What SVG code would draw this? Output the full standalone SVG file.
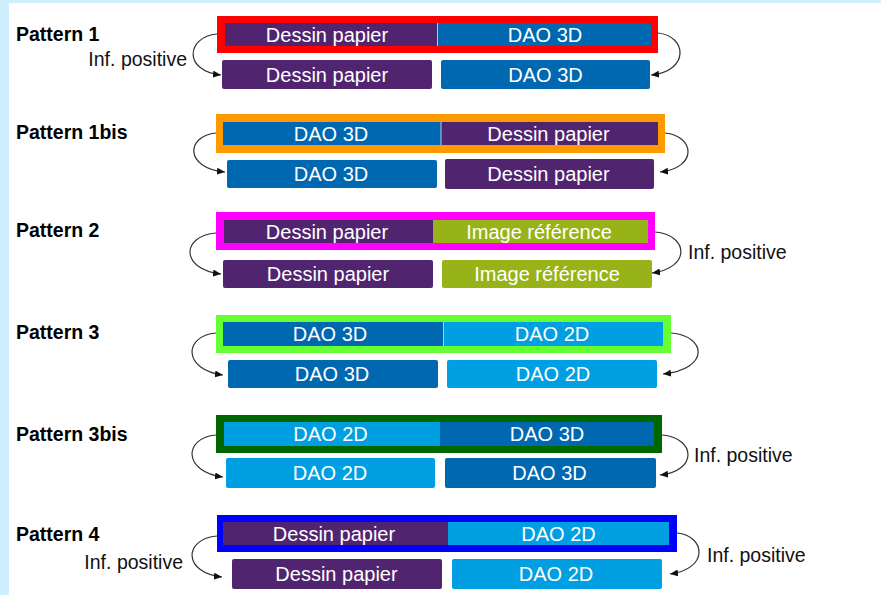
<svg xmlns="http://www.w3.org/2000/svg" width="881" height="595" viewBox="0 0 881 595">
<style>
.lbl{font-family:"Liberation Sans",Arial,sans-serif;font-size:19.5px;font-weight:bold;fill:#000}
.inf{font-family:"Liberation Sans",Arial,sans-serif;font-size:19.5px;fill:#111}
.bt{font-family:"Liberation Sans",Arial,sans-serif;font-size:20px;fill:#fff;text-anchor:middle}
.pu{fill:#51246f}.db{fill:#0067b1}.lb{fill:#009fe1}.gr{fill:#98b317}
.div{stroke:#b8c8e8;stroke-width:1}
.con{fill:none;stroke:#333;stroke-width:1.2;marker-end:url(#ah)}
</style>
<defs>
<marker id="ah" markerUnits="userSpaceOnUse" markerWidth="9" markerHeight="8" refX="8" refY="3.5" orient="auto">
<path d="M0,0 L8,3.5 L0,7 z" fill="#111"/>
</marker>
</defs>
<rect x="0" y="0" width="881" height="595" fill="#cfeefe"/>
<rect x="9" y="3" width="872" height="592" fill="#fff"/>

<g id="pattern1">
<text class="lbl" x="16" y="41">Pattern 1</text>
<text class="inf" x="187" y="66" text-anchor="end">Inf. positive</text>
<rect x="217" y="16" width="441" height="37" fill="#ff0000"/>
<rect class="pu" x="225" y="23" width="212" height="23"/>
<rect class="db" x="437" y="23" width="214" height="23"/>
<line class="div" x1="437.5" y1="23" x2="437.5" y2="46"/>
<text class="bt" x="327" y="41.5">Dessin papier</text>
<text class="bt" x="545" y="41.5">DAO 3D</text>
<rect class="pu" x="222" y="60" width="210" height="29" rx="2"/>
<rect class="db" x="441" y="60" width="209" height="29" rx="2"/>
<text class="bt" x="327" y="81.5">Dessin papier</text>
<text class="bt" x="545.5" y="81.5">DAO 3D</text>
</g>

<g id="pattern1bis">
<text class="lbl" x="16" y="139">Pattern 1bis</text>
<rect x="216" y="114" width="449" height="39" fill="#ff9900"/>
<rect class="db" x="223" y="122" width="218" height="23"/>
<rect class="pu" x="441" y="122" width="217" height="23"/>
<line class="div" x1="441" y1="122" x2="441" y2="145"/>
<text class="bt" x="331" y="140.5">DAO 3D</text>
<text class="bt" x="548.5" y="140.5">Dessin papier</text>
<rect class="db" x="227" y="160" width="210" height="28" rx="2"/>
<rect class="pu" x="445" y="159" width="209" height="30" rx="2"/>
<text class="bt" x="331" y="181">DAO 3D</text>
<text class="bt" x="548.5" y="181">Dessin papier</text>
</g>

<g id="pattern2">
<text class="lbl" x="16" y="237">Pattern 2</text>
<text class="inf" x="688" y="259">Inf. positive</text>
<rect x="216" y="212" width="439" height="38" fill="#ff00ff"/>
<rect class="pu" x="224" y="220" width="209" height="23"/>
<rect class="gr" x="433" y="220" width="215" height="23"/>
<text class="bt" x="327" y="238.5">Dessin papier</text>
<text class="bt" x="539" y="238.5">Image référence</text>
<rect class="pu" x="223" y="260" width="210" height="28" rx="2"/>
<rect class="gr" x="442" y="260" width="210" height="28" rx="2"/>
<text class="bt" x="328" y="281">Dessin papier</text>
<text class="bt" x="547" y="281">Image référence</text>
</g>

<g id="pattern3">
<text class="lbl" x="16" y="339">Pattern 3</text>
<rect x="216" y="315" width="455" height="38" fill="#66ff33"/>
<rect class="db" x="223" y="322" width="220" height="24"/>
<rect class="lb" x="443" y="322" width="220" height="24"/>
<line class="div" x1="443.5" y1="322" x2="443.5" y2="346"/>
<text class="bt" x="330" y="341">DAO 3D</text>
<text class="bt" x="552" y="341">DAO 2D</text>
<rect class="db" x="228" y="360" width="210" height="28" rx="2"/>
<rect class="lb" x="447" y="360" width="210" height="28" rx="2"/>
<text class="bt" x="332" y="381">DAO 3D</text>
<text class="bt" x="553" y="381">DAO 2D</text>
</g>

<g id="pattern3bis">
<text class="lbl" x="16" y="441">Pattern 3bis</text>
<text class="inf" x="694" y="462">Inf. positive</text>
<rect x="216" y="415" width="446" height="38" fill="#006600"/>
<rect class="lb" x="224" y="422" width="216" height="24"/>
<rect class="db" x="440" y="422" width="214" height="24"/>
<text class="bt" x="330.5" y="441">DAO 2D</text>
<text class="bt" x="547" y="441">DAO 3D</text>
<rect class="lb" x="226" y="458" width="209" height="30" rx="2"/>
<rect class="db" x="445" y="458" width="211" height="30" rx="2"/>
<text class="bt" x="330" y="480">DAO 2D</text>
<text class="bt" x="549.5" y="480">DAO 3D</text>
</g>

<g id="pattern4">
<text class="lbl" x="16" y="541">Pattern 4</text>
<text class="inf" x="183" y="569" text-anchor="end">Inf. positive</text>
<text class="inf" x="707" y="562">Inf. positive</text>
<rect x="217" y="515" width="460" height="37" fill="#0000ff"/>
<rect class="pu" x="223" y="522" width="225" height="23"/>
<rect class="lb" x="448" y="522" width="221" height="23"/>
<text class="bt" x="334" y="540.5">Dessin papier</text>
<text class="bt" x="558.5" y="540.5">DAO 2D</text>
<rect class="pu" x="232" y="559" width="210" height="30" rx="2"/>
<rect class="lb" x="452" y="559" width="210" height="30" rx="2"/>
<text class="bt" x="336.5" y="581">Dessin papier</text>
<text class="bt" x="556" y="581">DAO 2D</text>
</g>

<g id="connectors">
<path class="con" d="M217,34 C186,37 183,71 221,75"/>
<path class="con" d="M658,33 C687,36 690,71 651,75"/>
<path class="con" d="M216,133 C186,136 184,168 225,172"/>
<path class="con" d="M665,133 C695,136 698,168 660,172"/>
<path class="con" d="M216,233 C181,236 180,269 221,274"/>
<path class="con" d="M655,232 C689,235 691,268 652,273"/>
<path class="con" d="M216,333 C183,336 183,370 223,375"/>
<path class="con" d="M671,333 C707,336 710,369 663,374"/>
<path class="con" d="M216,435 C183,438 183,472 223,477"/>
<path class="con" d="M662,435 C696,438 698,471 660,475"/>
<path class="con" d="M217,536 C183,539 183,573 222,577"/>
<path class="con" d="M677,533 C706,536 709,569 670,574"/>
</g>
</svg>
